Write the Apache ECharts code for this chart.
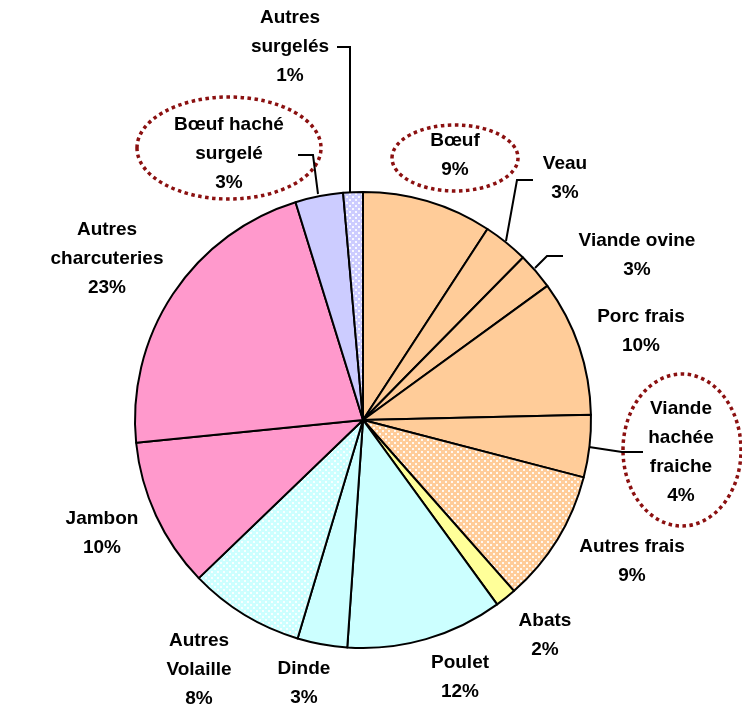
<!DOCTYPE html>
<html>
<head>
<meta charset="utf-8">
<script src="https://cdn.jsdelivr.net/npm/echarts@6/dist/echarts.min.js"></script>
<style>
html,body{margin:0;padding:0;background:#fff;}
#chart{width:742px;height:715px;}
</style>
</head>
<body>
<div id="chart"></div>
<script>
// ---- data ----
const categories = ['Bœuf','Veau','Viande ovine','Porc frais','Viande hachée fraiche','Autres frais','Abats','Poulet','Dinde','Autres Volaille','Jambon','Autres charcuteries','Bœuf haché surgelé','Autres surgelés'];
const labelNames = ['Bœuf','Veau','Viande ovine','Porc frais','Viande\nhachée\nfraiche','Autres frais','Abats','Poulet','Dinde','Autres\nVolaille','Jambon','Autres\ncharcuteries','Bœuf haché\nsurgelé','Autres\nsurgelés'];
const values = [9.19,3.19,2.61,9.64,4.42,9.44,1.50,11.11,3.53,8.17,10.61,21.81,3.39,1.39];
const pctLabels = ['9%','3%','3%','10%','4%','9%','2%','12%','3%','8%','10%','23%','3%','1%'];

// ---- styles ----
const fillKeys = ['peach','peach','peach','peach','peach','peachDots','yellow','cyan','cyan','cyanDots','pink','pink','lavender','lavenderDots'];
const baseColors = {peach:'#FFCC99', yellow:'#FFFF99', cyan:'#CCFFFF', pink:'#FF99CC', lavender:'#CCCCFF'};
function dots(base){
  const c = document.createElement('canvas');
  c.width = 6; c.height = 6;
  const g = c.getContext('2d');
  g.fillStyle = base; g.fillRect(0,0,6,6);
  g.fillStyle = 'rgba(255,255,255,0.85)';
  g.fillRect(1,1,2,2); g.fillRect(4,4,2,2);
  return {image:c, repeat:'repeat'};
}
function fillFor(k){
  if (k.endsWith('Dots')) return dots(baseColors[k.replace('Dots','')]);
  return baseColors[k];
}
// label layout (label block centres and leader lines)
const labelPos = [[455,155],[565,178],[637,255],[641,331],[681,452],[632,561],[545,635],[460,677],[304,683],[199,670],[102,533],[107,259],[229,154],[290,47]];
const leaders = {
  1: [[506,241],[517,180],[533,180]],
  2: [[535,268],[547,256],[563,256]],
  4: [[589,447],[622,452],[643,452]],
  12: [[318,194],[313,155],[298,155]],
  13: [[350,192],[350,47],[337,47]]
};

const data = values.map((v,i)=>({
  value: v,
  name: categories[i],
  itemStyle: {color: fillFor(fillKeys[i])},
  label: {formatter: labelNames[i] + '\n' + pctLabels[i]},
  labelLine: {show: !!leaders[i]}
}));

const chart = echarts.init(document.getElementById('chart'), null, {renderer:'canvas'});
const dash = {fill:'none', stroke:'#8B1010', lineWidth:3.5, lineDash:[3.5,3.5]};
chart.setOption({
  animation:false,
  graphic:[
    {type:'ellipse', shape:{cx:229,cy:148,rx:92,ry:51}, style:dash, z:1},
    {type:'ellipse', shape:{cx:455,cy:158,rx:63,ry:33}, style:dash, z:1},
    {type:'ellipse', shape:{cx:682,cy:450,rx:59,ry:76}, style:dash, z:1}
  ],
  series:[{
    type:'pie',
    center:[363,420],
    radius:228,
    startAngle:90,
    clockwise:true,
    avoidLabelOverlap:false,
    minShowLabelAngle:0,
    itemStyle:{borderColor:'#000', borderWidth:2},
    emphasis:{disabled:true},
    label:{
      show:true,
      position:'outside',
      color:'#000',
      fontFamily:'"Liberation Sans", Arial, sans-serif',
      fontWeight:'bold',
      fontSize:19,
      lineHeight:29,
      align:'center'
    },
    labelLine:{lineStyle:{color:'#000', width:2}, smooth:false},
    labelLayout: function(p){
      const i = p.dataIndex;
      const r = {x:labelPos[i][0], y:labelPos[i][1], align:'center', verticalAlign:'middle'};
      if (leaders[i]) r.labelLinePoints = leaders[i];
      return r;
    },
    data: data
  }]
});
</script>
</body>
</html>
